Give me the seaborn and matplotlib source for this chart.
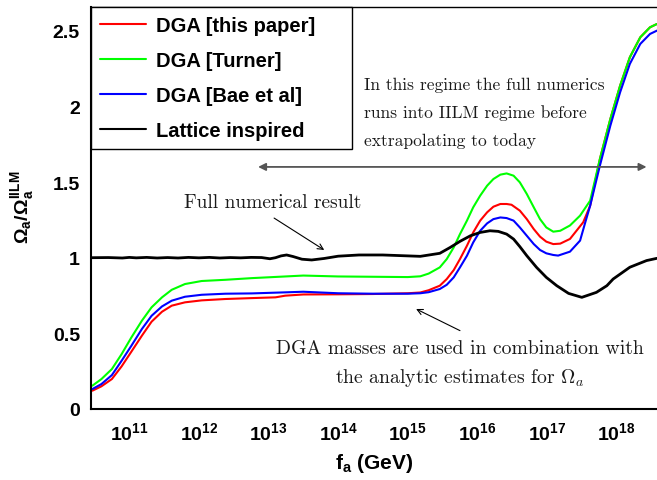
import matplotlib
matplotlib.use("Agg")
import matplotlib.pyplot as plt
from matplotlib.ticker import MultipleLocator, LogLocator, FixedLocator, FuncFormatter, NullFormatter
from matplotlib.lines import Line2D
import numpy as np
import pandas as pd
import seaborn as sns

# log10(f_a / GeV) and Omega_a / Omega_a^IILM
log_fa_red = [10.47, 10.60, 10.75, 10.89, 11.03, 11.18, 11.32, 11.47, 11.61, 11.80, 12.04, 12.38, 12.76,
              13.10, 13.24, 13.50, 14.00, 14.50, 15.00, 15.18, 15.30, 15.46, 15.56, 15.66, 15.75, 15.85,
              15.94, 16.04, 16.14, 16.23, 16.33, 16.42, 16.49, 16.61, 16.71, 16.81, 16.90, 16.99, 17.09,
              17.19, 17.33, 17.52, 17.62, 17.76, 17.91, 18.05, 18.19, 18.34, 18.48, 18.58]
ratio_red = [0.121, 0.150, 0.198, 0.282, 0.379, 0.484, 0.577, 0.643, 0.683, 0.705, 0.718, 0.727, 0.733,
             0.738, 0.749, 0.757, 0.758, 0.760, 0.765, 0.770, 0.785, 0.815, 0.859, 0.918, 0.991, 1.079,
             1.167, 1.245, 1.300, 1.337, 1.355, 1.355, 1.350, 1.311, 1.255, 1.189, 1.139, 1.106, 1.090,
             1.093, 1.124, 1.234, 1.344, 1.653, 1.917, 2.137, 2.325, 2.457, 2.523, 2.545]

log_fa_green = [10.47, 10.60, 10.75, 10.89, 11.03, 11.18, 11.32, 11.47, 11.61, 11.80, 12.04, 12.38, 12.76,
                13.24, 13.50, 14.00, 14.50, 15.00, 15.18, 15.30, 15.46, 15.56, 15.66, 15.75, 15.85, 15.94,
                16.04, 16.14, 16.23, 16.33, 16.42, 16.52, 16.61, 16.71, 16.81, 16.90, 16.99, 17.09, 17.19,
                17.33, 17.475, 17.62, 17.76, 17.91, 18.05, 18.19, 18.34, 18.48, 18.58]
ratio_green = [0.154, 0.198, 0.264, 0.363, 0.473, 0.583, 0.672, 0.738, 0.788, 0.826, 0.846, 0.854, 0.865,
               0.876, 0.882, 0.876, 0.874, 0.872, 0.877, 0.895, 0.936, 0.991, 1.068, 1.156, 1.245, 1.333,
               1.410, 1.476, 1.520, 1.549, 1.557, 1.542, 1.498, 1.421, 1.333, 1.255, 1.200, 1.172, 1.178,
               1.213, 1.278, 1.377, 1.653, 1.917, 2.137, 2.325, 2.457, 2.523, 2.545]

log_fa_blue = [10.47, 10.60, 10.75, 10.89, 11.03, 11.18, 11.32, 11.47, 11.61, 11.80, 12.04, 12.38, 12.76,
               13.24, 13.50, 14.00, 14.50, 15.00, 15.18, 15.30, 15.46, 15.56, 15.66, 15.75, 15.85, 15.94,
               16.04, 16.14, 16.23, 16.33, 16.42, 16.52, 16.61, 16.71, 16.81, 16.90, 16.99, 17.09, 17.16,
               17.33, 17.475, 17.55, 17.62, 17.76, 17.91, 18.05, 18.19, 18.34, 18.48, 18.58]
ratio_blue = [0.132, 0.165, 0.224, 0.319, 0.418, 0.528, 0.616, 0.678, 0.716, 0.742, 0.755, 0.762, 0.764,
              0.771, 0.775, 0.765, 0.762, 0.762, 0.765, 0.772, 0.793, 0.821, 0.870, 0.936, 1.013, 1.101,
              1.178, 1.227, 1.255, 1.266, 1.262, 1.245, 1.200, 1.145, 1.090, 1.051, 1.029, 1.018, 1.014,
              1.040, 1.113, 1.234, 1.344, 1.609, 1.873, 2.093, 2.281, 2.413, 2.479, 2.501]

log_fa_black = [10.45, 10.70, 10.90, 11.00, 11.10, 11.25, 11.40, 11.55, 11.70, 11.85, 12.00, 12.15, 12.30,
                12.45, 12.60, 12.75, 12.90, 13.02, 13.10, 13.18, 13.26, 13.35, 13.48, 13.62, 13.80, 14.00,
                14.30, 14.64, 15.00, 15.18, 15.46, 15.61, 15.75, 15.90, 16.04, 16.18, 16.30, 16.42, 16.52,
                16.61, 16.71, 16.85, 16.99, 17.14, 17.31, 17.50, 17.71, 17.86, 17.95, 18.19, 18.43, 18.58]
ratio_black = [1.000, 1.001, 0.998, 1.002, 0.999, 1.002, 0.998, 1.001, 0.998, 1.002, 0.999, 1.002, 0.998,
               1.001, 0.999, 1.002, 1.001, 0.993, 1.000, 1.012, 1.018, 1.008, 0.990, 0.985, 0.995, 1.010,
               1.018, 1.018, 1.012, 1.009, 1.029, 1.068, 1.108, 1.145, 1.167, 1.178, 1.174, 1.156, 1.123,
               1.073, 1.013, 0.936, 0.870, 0.815, 0.764, 0.738, 0.771, 0.815, 0.859, 0.937, 0.981, 0.996]

labels = ["DGA [this paper]", "DGA [Turner]", "DGA [Bae et al]", "Lattice inspired"]
colors = ["#ff0000", "#00ff00", "#0000ff", "black"]
decades = list(range(11, 19))

sns.set_theme(style="white")
plt.rcParams['font.family'] = ['Liberation Sans', 'DejaVu Sans']
plt.rcParams['font.weight'] = 'bold'
plt.rcParams['text.color'] = 'black'
plt.rcParams['axes.labelcolor'] = 'black'
plt.rcParams['xtick.color'] = 'black'
plt.rcParams['ytick.color'] = 'black'
plt.rcParams['mathtext.fontset'] = 'custom'
plt.rcParams['mathtext.rm'] = 'Liberation Sans:bold'
plt.rcParams['mathtext.bf'] = 'Liberation Sans:bold'
plt.rcParams['mathtext.it'] = 'Liberation Sans:bold'

fig = plt.figure(figsize=(6.57, 4.81), dpi=100)
ax = fig.add_axes([91/657, 1 - 410/481, 566/657, 402/481])

series = [(log_fa_red, ratio_red), (log_fa_green, ratio_green),
          (log_fa_blue, ratio_blue), (log_fa_black, ratio_black)]
for (lx, ly), col, lab in zip(series, colors, labels):
    lw = 2.0 if col == "black" else 1.5
    sns.lineplot(x=10 ** np.array(lx), y=ly, color=col, lw=lw, ax=ax,
                 estimator=None, sort=False, label=lab)

ax.set_xscale('log')
ax.set_xlim(10 ** 10.45, 10 ** 18.58)
ax.set_ylim(0, 2.657)

# ticks, ROOT style (inside)
ax.yaxis.set_major_locator(MultipleLocator(0.5))
ax.yaxis.set_minor_locator(MultipleLocator(0.1))
ax.yaxis.set_major_formatter(FuncFormatter(lambda v, p: "%g" % v))
ax.xaxis.set_major_locator(FixedLocator([10.0 ** d for d in decades]))
ax.xaxis.set_minor_locator(LogLocator(base=10, subs=np.arange(2, 10), numticks=20))
ax.xaxis.set_major_formatter(FuncFormatter(lambda v, p: r"$\mathbf{10^{%d}}$" % round(np.log10(v))))
ax.xaxis.set_minor_formatter(NullFormatter())
ax.tick_params(axis='y', which='major', direction='in', length=12, width=1.0, labelsize=14, pad=8)
ax.tick_params(axis='y', which='minor', direction='in', length=7, width=1.0)
ax.tick_params(axis='x', which='major', direction='in', length=9, width=1.0, labelsize=14, pad=9)
ax.tick_params(axis='x', which='minor', direction='in', length=5, width=1.0)
ax.tick_params(top=False, right=False, which='both')
for lab in ax.get_yticklabels():
    lab.set_fontweight('bold')

for s in ['left', 'bottom']:
    ax.spines[s].set_linewidth(1.5)
ax.spines['top'].set_linewidth(1.0)
ax.spines['right'].set_visible(False)
for s in ax.spines.values():
    s.set_color('black')

ax.set_xlabel(r"$\mathbf{f_{a}}$ (GeV)", fontsize=15, fontweight='bold')
ax.xaxis.set_label_coords(0.50, -0.105)
ax.set_ylabel(r"$\Omega_{a}/\Omega_{a}^{IILM}$", fontsize=14, fontweight='bold')
ax.yaxis.set_label_coords(-0.098, 0.505)

handles = [Line2D([], [], color=c, lw=1.5) for c in colors]
leg = ax.legend(handles, labels, loc='upper left', bbox_to_anchor=(0, 0.649, 0.461, 0.351),
                mode='expand', borderaxespad=0, frameon=True, fancybox=False, framealpha=1,
                edgecolor='black', prop={'size': 14.5, 'weight': 'bold'},
                handlelength=2.3, handletextpad=0.5, labelspacing=0.8, borderpad=0.45)
leg.get_frame().set_linewidth(1.0)

# annotations
serif = dict(family='cmr10', fontweight='normal', color='#1a1a1a')
ax.text(0.482, 0.826, "In this regime the full numerics\nruns into IILM regime before\nextrapolating to today",
        transform=ax.transAxes, ha='left', va='top', fontsize=12.6, linespacing=1.95, **serif)
ax.annotate("", xy=(10 ** 12.85, 1.60), xytext=(10 ** 18.43, 1.60),
            arrowprops=dict(arrowstyle='<|-|>', color='#555555', lw=1.3, mutation_scale=11, shrinkA=0, shrinkB=0))

ax.text(0.3216, 0.5025, "Full numerical result", transform=ax.transAxes, ha='center', va='baseline',
        fontsize=14, **serif)
ax.annotate("", xy=(10 ** 13.80, 1.051), xytext=(10 ** 13.08, 1.262),
            arrowprops=dict(arrowstyle='->', color='black', lw=0.8, mutation_scale=10, shrinkA=0, shrinkB=0))

ax.text(0.652, 0.139, "DGA masses are used in combination with", transform=ax.transAxes,
        ha='center', va='baseline', fontsize=14.2, **serif)
ax.text(0.652, 0.067, r"the analytic estimates for $\Omega_a$", transform=ax.transAxes,
        ha='center', va='baseline', fontsize=14.2, math_fontfamily='cm', **serif)
ax.annotate("", xy=(10 ** 15.12, 0.661), xytext=(10 ** 15.75, 0.518),
            arrowprops=dict(arrowstyle='->', color='black', lw=0.8, mutation_scale=10, shrinkA=0, shrinkB=0))

fig.savefig("out.png", dpi=100)
